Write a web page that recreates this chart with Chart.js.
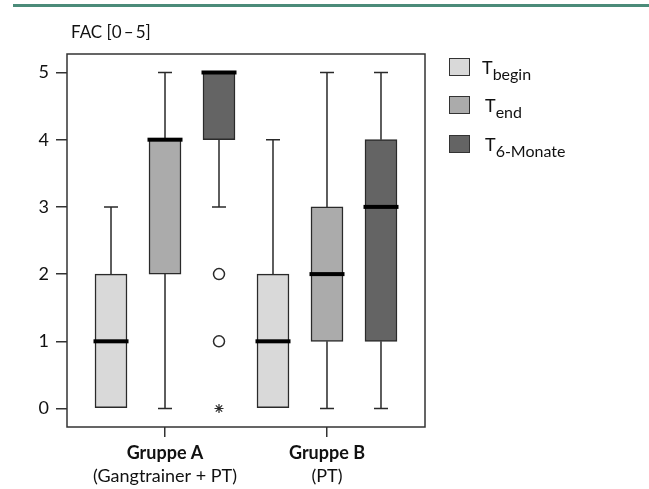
<!DOCTYPE html>
<html>
<head>
<meta charset="utf-8">
<script src="https://cdn.jsdelivr.net/npm/chart.js@4"></script>
<style>
  body { margin: 0; background: #fff; }
  #wrap { position: relative; width: 649px; height: 489px; }
  #topline { position: absolute; left: 13px; top: 4px; width: 636px; height: 3px; background: #4b8b79; }
  .leg-box { position: absolute; left: 449px; width: 19px; height: 16px; border: 1.5px solid #333; }
  .leg-txt { position: absolute; font-family: Lato, sans-serif; font-size: 18px; line-height: 18px; color: #111; }
  .leg-txt sub { font-size: 16px; vertical-align: -6px; }
</style>
</head>
<body>
<div id="wrap">
  <div id="topline"></div>
  <canvas id="boxplot" width="649" height="489"></canvas>
  <div id="legend"></div>
</div>
<script>
// data
const groups = ['Gruppe A', 'Gruppe B'];
const groupNotes = ['(Gangtrainer + PT)', '(PT)'];
const seriesSubs = ['begin', 'end', '6-Monate'];
const seriesColors = ['#d9d9d9', '#ababab', '#646464'];
const yTicks = [0, 1, 2, 3, 4, 5];

// one row per series (T begin, T end, T 6-Monate), values for [Gruppe A, Gruppe B]
const whiskerLow = [[0, 0], [0, 0], [3, 0]];
const q1 = [[0, 0], [2, 1], [4, 1]];
const median = [[1, 1], [4, 2], [5, 3]];
const q3 = [[2, 2], [4, 3], [5, 4]];
const whiskerHigh = [[3, 4], [5, 5], [5, 5]];

// Gruppe A, T 6-Monate
const outliers = [2, 1];
const extremes = [0];

const FONT = 'Lato, sans-serif';
const INK = '#2a2a2a';

// box x position: 3 slots per group
const xPos = (s, g) => g * 3 + s + 1;

const boxSets = seriesSubs.map((name, s) => ({
  type: 'bar',
  label: 'T ' + name,
  data: groups.map((_, g) => ({ x: xPos(s, g), y: [q1[s][g], q3[s][g]] })),
  backgroundColor: seriesColors[s],
  borderColor: INK,
  borderWidth: 1.5,
  borderSkipped: false,
  barThickness: 32,
  grouped: false,
  order: 2
}));

const outlierSet = {
  type: 'scatter',
  label: 'outliers',
  data: outliers.map(v => ({ x: xPos(2, 0), y: v })),
  pointStyle: 'circle',
  radius: 5.5,
  backgroundColor: '#fff',
  borderColor: INK,
  borderWidth: 1.5,
  order: 1
};
const extremeSet = {
  type: 'scatter',
  label: 'extremes',
  data: extremes.map(v => ({ x: xPos(2, 0), y: v })),
  pointStyle: 'star',
  radius: 4.5,
  borderColor: INK,
  borderWidth: 1.2,
  order: 1
};

const whiskerPlugin = {
  id: 'whiskers',
  beforeDatasetsDraw(chart) {
    const { ctx, scales: { x, y } } = chart;
    ctx.save();
    ctx.strokeStyle = INK;
    ctx.lineWidth = 1.5;
    seriesSubs.forEach((_, s) => groups.forEach((_, g) => {
      const cx = x.getPixelForValue(xPos(s, g));
      const ends = [[q3[s][g], whiskerHigh[s][g]], [q1[s][g], whiskerLow[s][g]]];
      ends.forEach(([from, to]) => {
        if (from === to) return;
        const y1 = y.getPixelForValue(from), y2 = y.getPixelForValue(to);
        ctx.beginPath();
        ctx.moveTo(cx, y1); ctx.lineTo(cx, y2);
        ctx.moveTo(cx - 7, y2); ctx.lineTo(cx + 7, y2);
        ctx.stroke();
      });
    }));
    ctx.restore();
  },
  afterDatasetsDraw(chart) {
    const { ctx, scales: { x, y } } = chart;
    ctx.save();
    ctx.fillStyle = '#000';
    seriesSubs.forEach((_, s) => groups.forEach((_, g) => {
      const cx = x.getPixelForValue(xPos(s, g));
      const my = y.getPixelForValue(median[s][g]);
      ctx.fillRect(cx - 17.5, my - 2, 35, 4);
    }));
    ctx.restore();
  },
  afterDraw(chart) {
    const { ctx, chartArea: a, scales: { x } } = chart;
    ctx.save();
    ctx.strokeStyle = '#333';
    ctx.lineWidth = 1.5;
    ctx.strokeRect(a.left, a.top, a.right - a.left, a.bottom - a.top);
    ctx.fillStyle = '#111';
    ctx.font = '18px ' + FONT;
    ctx.textAlign = 'center';
    ctx.textBaseline = 'alphabetic';
    groupNotes.forEach((t, g) => ctx.fillText(t, x.getPixelForValue(xPos(1, g)), 482));
    ctx.textAlign = 'left';
    ctx.font = '17px ' + FONT;
    ctx.fillText('FAC [0\u2009\u2013\u20095]', 71, 38);
    ctx.restore();
  }
};

new Chart(document.getElementById('boxplot'), {
  type: 'bar',
  data: { datasets: [...boxSets, outlierSet, extremeSet] },
  plugins: [whiskerPlugin],
  options: {
    responsive: false,
    animation: false,
    layout: { padding: { top: 54, right: 224, bottom: 0, left: 0 } },
    plugins: { legend: { display: false }, tooltip: { enabled: false } },
    scales: {
      x: {
        type: 'linear',
        offset: false,
        min: 0.185,
        max: 6.815,
        afterBuildTicks: s => { s.ticks = groups.map((_, g) => ({ value: xPos(1, g) })); },
        afterFit: s => { s.height = 62; },
        border: { display: false },
        grid: { offset: false, drawOnChartArea: false, drawTicks: true, tickLength: 10, color: '#333', lineWidth: 1.5 },
        ticks: {
          callback: (v) => groups[Math.round((v - 2) / 3)],
          font: { family: FONT, size: 18, weight: 'bold' },
          color: '#111',
          padding: 5,
          maxRotation: 0
        }
      },
      y: {
        min: -0.275,
        max: 5.275,
        afterBuildTicks: s => { s.ticks = yTicks.map(v => ({ value: v })); },
        afterFit: s => { s.width = 67; },
        border: { display: false },
        grid: { drawOnChartArea: false, drawTicks: true, tickLength: 11, color: '#333', lineWidth: 1.5 },
        ticks: { font: { family: FONT, size: 18 }, color: '#111', padding: 7 }
      }
    }
  }
});

// legend with subscripts
const legend = document.getElementById('legend');
const legTops = [58, 96, 135];
seriesSubs.forEach((sub, s) => {
  const box = document.createElement('div');
  box.className = 'leg-box';
  box.style.top = legTops[s] + 'px';
  box.style.background = seriesColors[s];
  legend.appendChild(box);
  const txt = document.createElement('div');
  txt.className = 'leg-txt';
  txt.style.top = legTops[s] + 'px';
  txt.style.left = (s === 0 ? 482 : 485) + 'px';
  txt.innerHTML = 'T<sub>' + sub + '</sub>';
  legend.appendChild(txt);
});
</script>
</body>
</html>
